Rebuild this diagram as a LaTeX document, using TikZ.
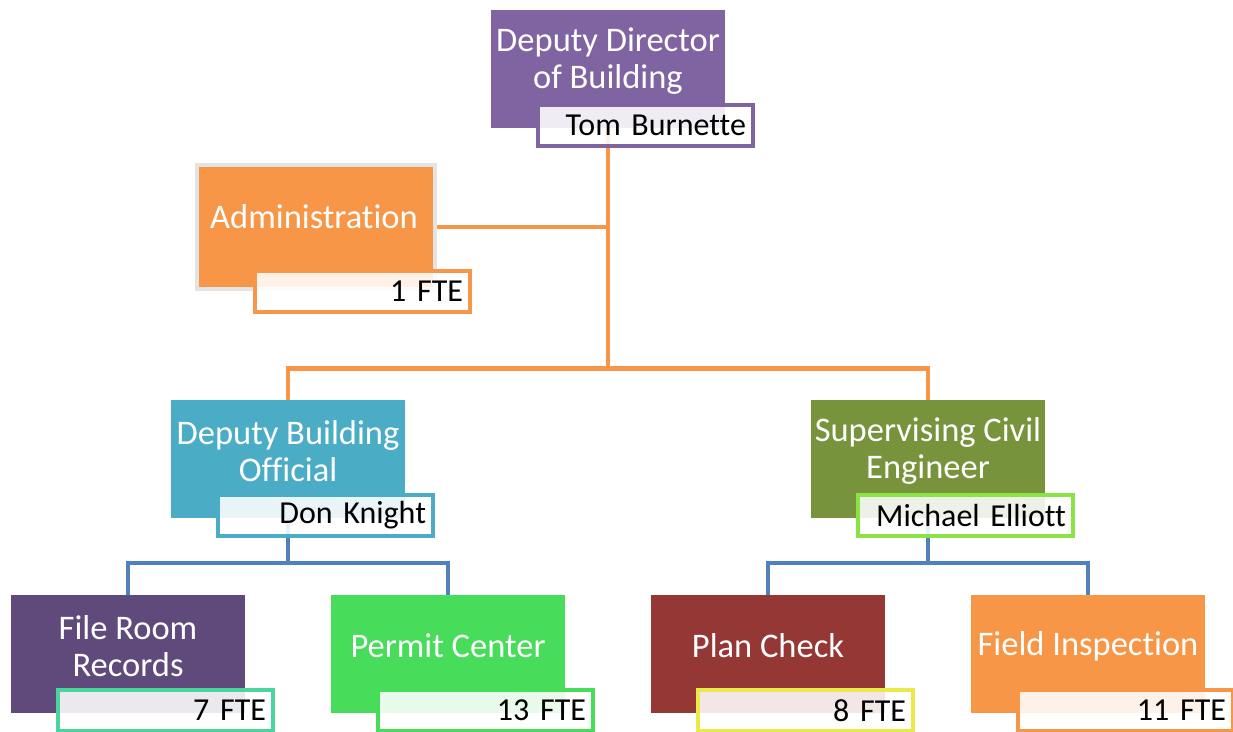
\documentclass[tikz,border=0pt]{standalone}
\usepackage{fontspec}
\setmainfont{Carlito}[Ligatures=NoCommon]
\newfontfamily\namefont{Carlito}[Ligatures=NoCommon, WordSpace=0.7]
\usetikzlibrary{backgrounds,calc}
\definecolor{cTop}{HTML}{8064A2}
\definecolor{cOrange}{HTML}{F79646}
\definecolor{cTeal}{HTML}{4BACC6}
\definecolor{cOlive}{HTML}{77933C}
\definecolor{cLime}{HTML}{8AE345}
\definecolor{cDPurple}{HTML}{604A7B}
\definecolor{cMint}{HTML}{4BD49D}
\definecolor{cGreen}{HTML}{47DC5A}
\definecolor{cRed}{HTML}{953735}
\definecolor{cYellow}{HTML}{E9EA48}
\definecolor{cBlue}{HTML}{4F81BD}
\definecolor{cGray}{HTML}{E4E4E4}
\tikzset{
  mainbox/.style={rectangle, draw=none, minimum width=234, minimum height=118, anchor=north west, inner sep=0pt},
  maintext/.style={text=white, align=center, font=\fontsize{34.5}{37}\selectfont, inner sep=0pt},
  namebox/.style={rectangle, line width=4pt, fill=white, fill opacity=0.88, text opacity=1,
    text width=201pt, align=right, inner xsep=7pt, inner ysep=0pt, minimum height=41pt,
    anchor=north west, font=\namefont\fontsize{32}{34}\selectfont},
  oconn/.style={draw=cOrange, line width=4.5pt},
  bconn/.style={draw=cBlue, line width=4pt},
}
\begin{document}
\begin{tikzpicture}[x=1pt,y=-1pt]
\useasboundingbox (0,0) rectangle (1233,731);
% top
\node[mainbox, fill=cTop] (top) at (491,10) {};
\node[maintext] (topt) at (608,61) {Deputy Director\\of Building};
\node[namebox, draw=cTop] (topn) at (536,103) {Tom Burnette};
% administration
\node[mainbox, fill=cOrange, draw=cGray, line width=4pt, minimum width=238, minimum height=124] (adm) at (195,163) {};
\node[maintext] (admt) at (314,217) {Administration};
\node[namebox, draw=cOrange] (admn) at (253,269) {1 FTE};
% deputy building official
\node[mainbox, fill=cTeal] (dbo) at (171,400) {};
\node[maintext] (dbot) at (288,451) {Deputy Building\\Official};
\node[namebox, draw=cTeal] (dbon) at (216,493) {Don Knight};
% supervising civil engineer
\node[mainbox, fill=cOlive] (sce) at (811,400) {};
\node[maintext] (scet) at (928,451) {Supervising Civil\\Engineer};
\node[namebox, draw=cLime] (scen) at (856,493) {Michael Elliott};
% file room
\node[mainbox, fill=cDPurple] (fr) at (11,595) {};
\node[maintext] (frt) at (128,646) {File Room\\Records};
\node[namebox, draw=cMint] (frn) at (56,688) {7 FTE};
% permit center
\node[mainbox, fill=cGreen] (pc) at (331,595) {};
\node[maintext] (pct) at (448,646) {Permit Center};
\node[namebox, draw=cGreen] (pcn) at (376,688) {13 FTE};
% plan check
\node[mainbox, fill=cRed] (pl) at (651,595) {};
\node[maintext] (plt) at (768,646) {Plan Check};
\node[namebox, draw=cYellow] (pln) at (696,688) {8 FTE};
% field inspection
\node[mainbox, fill=cOrange] (fi) at (971,595) {};
\node[maintext] (fit) at (1088,646) {Field Inspection};
\node[namebox, draw=cOrange] (fin) at (1016,688) {11 FTE};
\coordinate (j1) at ($(top.south)+(0,240)$);
\coordinate (j2) at ($(dbo.south)+(0,45)$);
\coordinate (j3) at ($(sce.south)+(0,45)$);
\begin{scope}[on background layer]
\draw[oconn] (top.south) -- (j1);
\draw[oconn] (adm.east) -- (adm.east -| top.south);
\draw[oconn] (dbo.north) -- (dbo.north |- j1) -- (sce.north |- j1) -- (sce.north);
\draw[bconn] (dbo.south) -- (j2);
\draw[bconn] (fr.north) -- (fr.north |- j2) -- (pc.north |- j2) -- (pc.north);
\draw[bconn] (sce.south) -- (j3);
\draw[bconn] (pl.north) -- (pl.north |- j3) -- (fi.north |- j3) -- (fi.north);
\end{scope}
\end{tikzpicture}
\end{document}
